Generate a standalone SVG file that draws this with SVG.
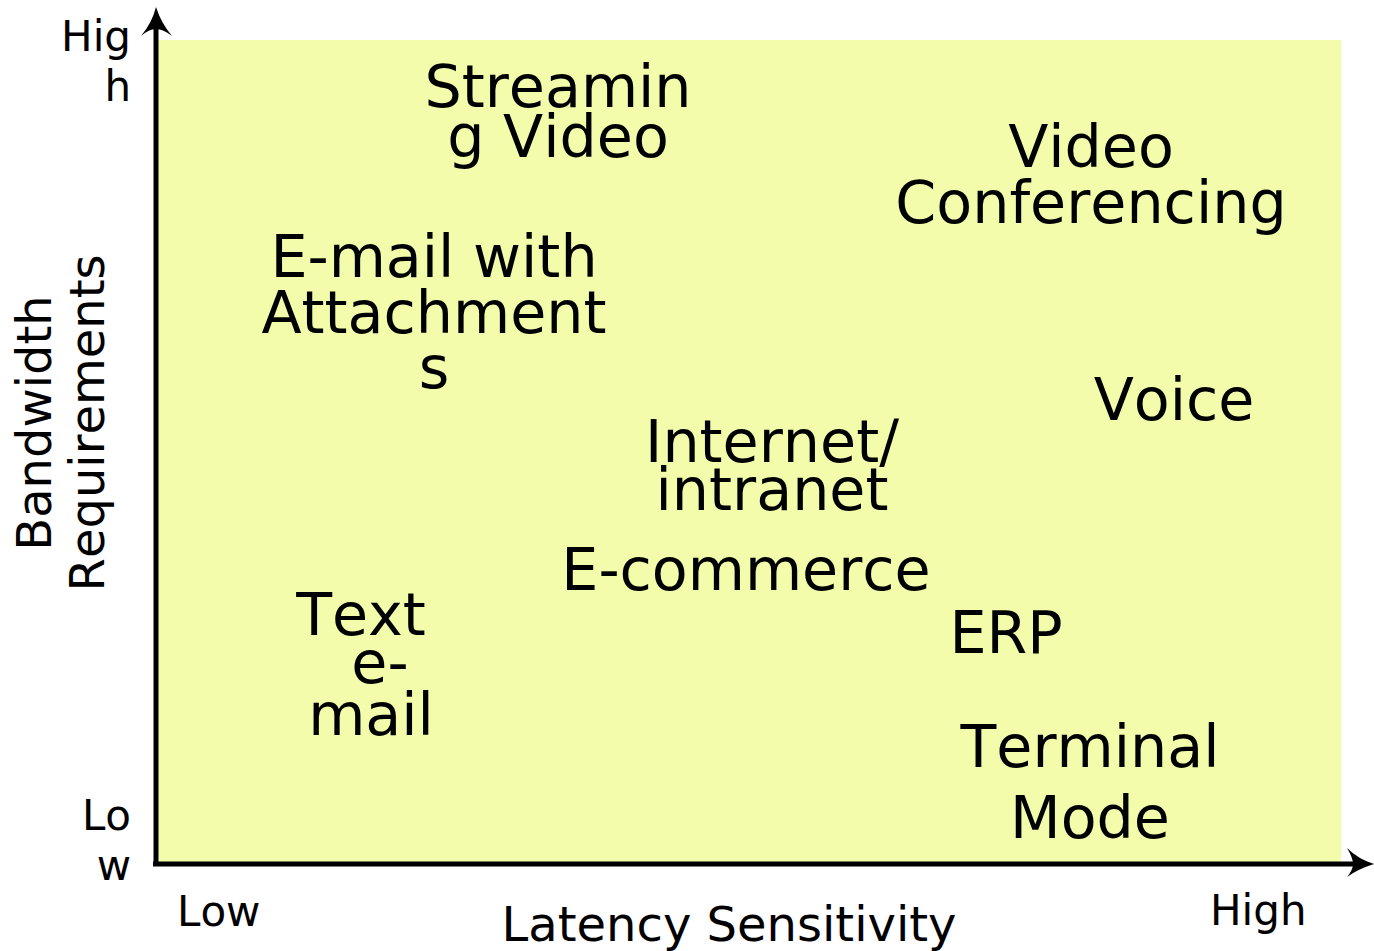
<svg xmlns="http://www.w3.org/2000/svg" width="1374" height="951" viewBox="0 0 1374 951">
<style>
text{font-family:"DejaVu Sans","Liberation Sans",sans-serif;fill:#000;font-kerning:none;font-feature-settings:"kern" 0}
.big{font-size:58.7px;text-anchor:middle}
.ax{font-size:42px}
.title{font-size:48px;text-anchor:middle}
.axis{stroke:#000;stroke-width:5;fill:none}
</style>
<rect id="plot" x="158" y="40" width="1183" height="822" fill="#f2fcaa"/>
<g id="connectors">
<line class="axis" x1="156" y1="866" x2="156" y2="28"/>
<line class="axis" x1="153" y1="864" x2="1353" y2="864"/>
<path d="M156,7 Q161,23 172,36 Q163,29 156,29 Q149,29 141,36 Q152,23 156,7 Z" fill="#000"/>
<path d="M1374,864 Q1358,869 1347,877 Q1353,870 1353,864 Q1353,858 1347,848 Q1358,859 1374,864 Z" fill="#000"/>
</g>
<g id="axis-labels">
<text class="ax" x="131" y="51" text-anchor="end">Hig</text>
<text class="ax" x="131" y="101" text-anchor="end">h</text>
<text class="ax" x="131" y="830" text-anchor="end">Lo</text>
<text class="ax" x="131" y="880" text-anchor="end">w</text>
<text class="ax" x="177" y="926">Low</text>
<text class="ax" x="1210" y="925">High</text>
<text class="title" x="729" y="941">Latency Sensitivity</text>
<g transform="translate(51,423) rotate(-90)">
<text class="title" x="0" y="0">Bandwidth</text>
<text class="title" x="0" y="53">Requirements</text>
</g>
</g>
<g id="streaming-video">
<text class="big" x="558" y="107">Streamin</text>
<text class="big" x="558" y="157">g Video</text>
</g>
<g id="video-conferencing">
<text class="big" x="1091" y="167">Video</text>
<text class="big" x="1091" y="223">Conferencing</text>
</g>
<g id="email-attachments">
<text class="big" x="434" y="277">E-mail with</text>
<text class="big" x="434" y="333">Attachment</text>
<text class="big" x="434" y="388">s</text>
</g>
<g id="voice">
<text class="big" x="1174" y="420">Voice</text>
</g>
<g id="internet-intranet">
<text class="big" x="772" y="462">Internet/</text>
<text class="big" x="772" y="510">intranet</text>
</g>
<g id="e-commerce">
<text class="big" x="746" y="590">E-commerce</text>
</g>
<g id="text-email">
<text class="big" x="361" y="635">Text</text>
<text class="big" x="380" y="683">e-</text>
<text class="big" x="371" y="735">mail</text>
</g>
<g id="erp">
<text class="big" x="1006" y="653">ERP</text>
</g>
<g id="terminal-mode">
<text class="big" x="1090" y="767">Terminal</text>
<text class="big" x="1090" y="838">Mode</text>
</g>
</svg>
